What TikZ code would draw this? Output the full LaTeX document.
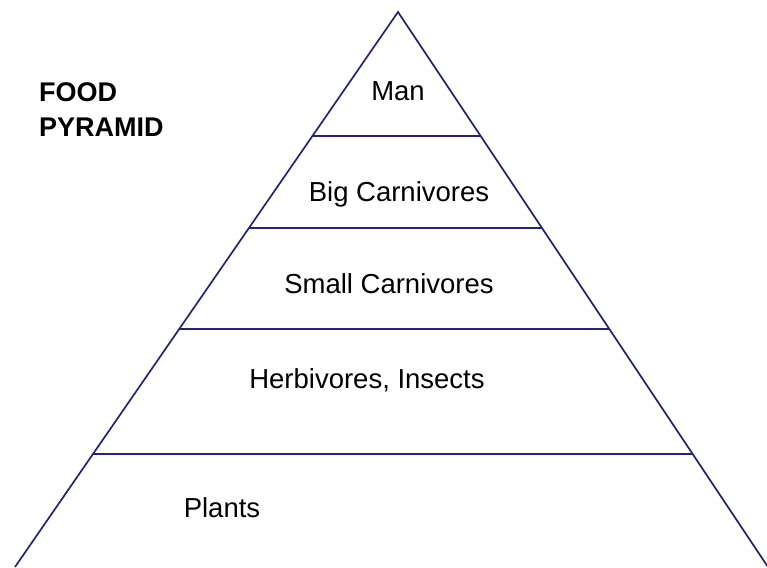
\documentclass[tikz,border=0pt]{standalone}
\usepackage{fontspec}
\setmainfont{Liberation Sans}
\usepackage{tikz}
\usetikzlibrary{calc}
\definecolor{navy}{HTML}{23237A}

\begin{document}
\begin{tikzpicture}[
  x=1pt, y=-1pt,
  side/.style={draw=navy, line width=1.7pt},
  tier/.style={draw=navy, line width=1.7pt},
  level/.style={anchor=base, inner sep=0pt, text=black,
    font=\fontsize{27.5}{33}\selectfont},
  title/.style={anchor=base west, inner sep=0pt, text=black,
    font=\fontsize{27}{32}\selectfont\bfseries}
]
\useasboundingbox (0,0) rectangle (767,567);
% outline
\coordinate (apex) at (398,12);
\coordinate (bl) at (15,567);
\coordinate (br) at (768,567);
\draw[side] (bl) -- (apex) -- (br);
% tier lines
\foreach \t in {0.2234,0.3892,0.5712,0.7964}
  \draw[tier] ($(apex)!\t!(bl)$) -- ($(apex)!\t!(br)$);
% levels
\node[level] (man) at (398,100) {Man};
\node[level] (bigcarn) at (399,201) {Big Carnivores};
\node[level] (smallcarn) at (389,293) {Small Carnivores};
\node[level] (herb) at (367,388) {Herbivores, Insects};
\node[level] (plants) at (222,517) {Plants};
% title
\node[title] (food) at (39,102) {FOOD};
\node[title] (pyramid) at (39,136) {PYRAMID};
\end{tikzpicture}
\end{document}
